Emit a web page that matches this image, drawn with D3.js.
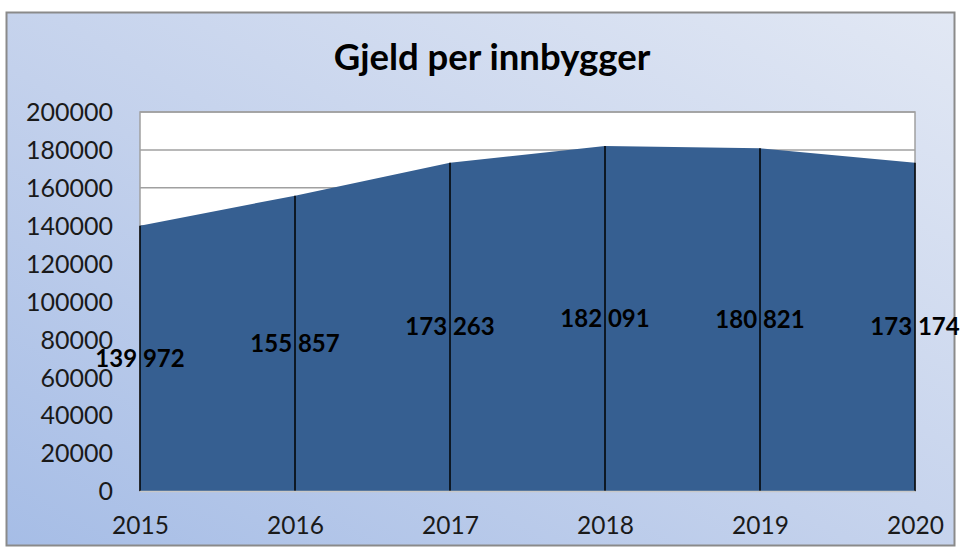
<!DOCTYPE html>
<html><head><meta charset="utf-8">
<script src="https://cdn.jsdelivr.net/npm/d3@7"></script>
<style>body{margin:0;background:#fff;}svg{display:block;}</style>
</head><body>
<script>
const years = ["2015","2016","2017","2018","2019","2020"];
const values = [139972,155857,173263,182091,180821,173174];
const yTicks = [0,20000,40000,60000,80000,100000,120000,140000,160000,180000,200000];
const title = "Gjeld per innbygger";

const W = 962, H = 550;
const svg = d3.select("body").append("svg").attr("width", W).attr("height", H);
const defs = svg.append("defs");
const g1 = defs.append("linearGradient").attr("id","bg").attr("x1","0").attr("y1","1").attr("x2","1").attr("y2","0");
g1.append("stop").attr("offset","0").attr("stop-color","#a6bde6");
g1.append("stop").attr("offset","0.45").attr("stop-color","#c3d1ec");
g1.append("stop").attr("offset","1").attr("stop-color","#e2e8f4");

svg.append("rect").attr("x",6.5).attr("y",12.5).attr("width",948).attr("height",533)
  .attr("fill","url(#bg)").attr("stroke","#8a8a8a").attr("stroke-width",2);

const fontFam = "Lato, 'Open Sans', sans-serif";
svg.append("text").attr("x",492).attr("y",70).attr("text-anchor","middle")
  .attr("font-family",fontFam).attr("font-weight","bold").attr("font-size",36.5)
  .attr("fill","#000").text(title);

const L = 140, R = 915, T = 112, B = 491;
const x = d3.scalePoint().domain(years).range([L, R]);
const y = d3.scaleLinear().domain([0,200000]).range([B, T]);

svg.append("rect").attr("x",L).attr("y",T).attr("width",R-L).attr("height",B-T)
  .attr("fill","#fff").attr("stroke","#a0a0a0").attr("stroke-width",1.5);

svg.append("g").selectAll("line").data(yTicks.slice(1)).join("line")
  .attr("x1",L).attr("x2",R).attr("y1",d=>y(d)).attr("y2",d=>y(d))
  .attr("stroke","#a0a0a0").attr("stroke-width",1.5);

const data = years.map((yr,i)=>({yr, v: values[i]}));
svg.append("path").datum(data)
  .attr("d", d3.area().x(d=>x(d.yr)).y0(B).y1(d=>y(d.v)))
  .attr("fill","#365f91");

svg.append("g").selectAll("line").data(data).join("line")
  .attr("x1",d=>x(d.yr)).attr("x2",d=>x(d.yr)).attr("y1",d=>y(d.v)).attr("y2",B)
  .attr("stroke","#000").attr("stroke-width",1.5);

svg.append("line").attr("x1",L).attr("x2",R).attr("y1",B+0.5).attr("y2",B+0.5)
  .attr("stroke","#c8c8c8").attr("stroke-width",1.5);

// y axis
const yAxis = d3.axisLeft(y).tickValues(yTicks).tickSize(0).tickPadding(0).tickFormat(d3.format("d"));
const ya = svg.append("g").attr("transform",`translate(${L-27},0)`).call(yAxis);
ya.select(".domain").remove();
ya.selectAll("text").attr("font-family",fontFam).attr("font-size",25).attr("fill","#1a1a1a").attr("dy","0.35em");

// x axis
const xAxis = d3.axisBottom(x).tickSize(0).tickPadding(0);
const xa = svg.append("g").attr("transform",`translate(0,${B+26})`).call(xAxis);
xa.select(".domain").remove();
xa.selectAll("text").attr("font-family",fontFam).attr("font-size",24.5).attr("fill","#1a1a1a").attr("dy","0.71em");

// data labels
const fmt = v => d3.format(",")(v).replace(/,/g," ");
svg.append("g").selectAll("text").data(data).join("text")
  .attr("x",d=>x(d.yr)).attr("y",d=>y(d.v/2)).attr("dy","0.35em")
  .attr("text-anchor","middle").attr("font-family",fontFam).attr("font-weight","bold")
  .attr("font-size",24).attr("fill","#000").text(d=>fmt(d.v));
</script>
</body></html>
